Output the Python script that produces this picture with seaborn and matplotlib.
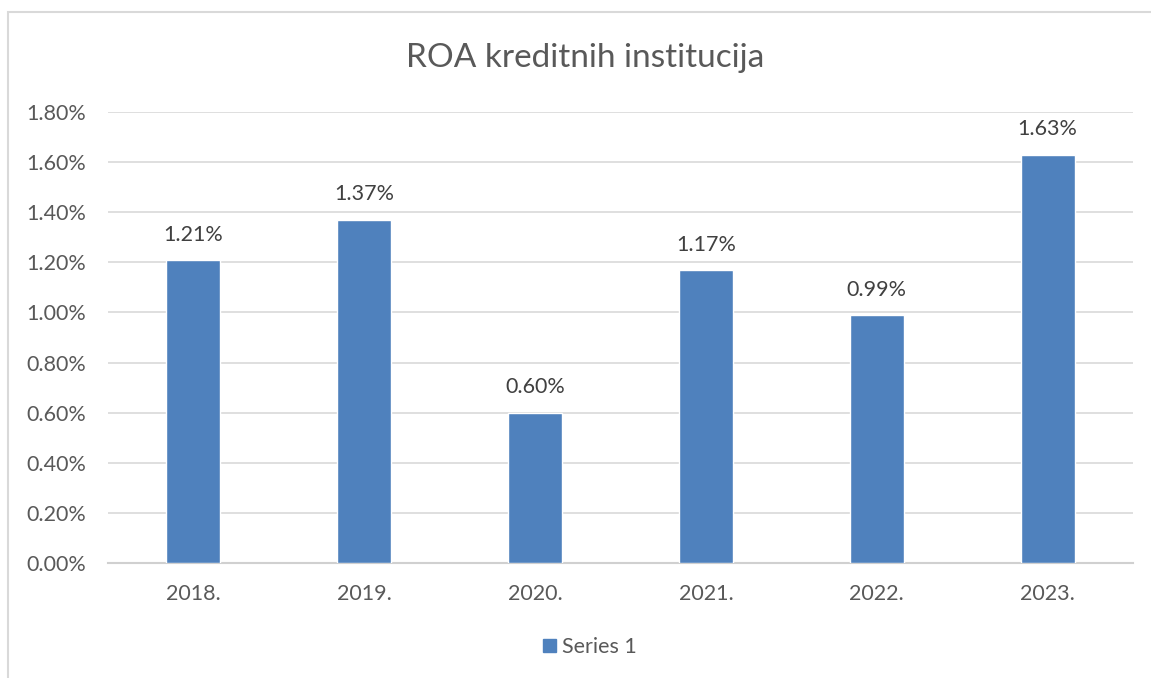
import matplotlib
matplotlib.use("Agg")
import matplotlib.pyplot as plt
import matplotlib.patches as mpatches
import seaborn as sns
import pandas as pd

categories = ["2018.", "2019.", "2020.", "2021.", "2022.", "2023."]
values = [1.21, 1.37, 0.60, 1.17, 0.99, 1.63]
yticks = [0.0, 0.2, 0.4, 0.6, 0.8, 1.0, 1.2, 1.4, 1.6, 1.8]
series_name = "Series 1"
title = "ROA kreditnih institucija"

sns.set_theme(style="white")
plt.rcParams['font.family'] = ['Lato', 'DejaVu Sans']

df = pd.DataFrame({"year": categories, "roa": values})

fig = plt.figure(figsize=(11.51, 6.78), dpi=100)
# outer chart border
fig.patches.append(mpatches.Rectangle((8/1151, -0.05), 1.2, 1 - 12/678 + 0.05,
                                      transform=fig.transFigure, fill=False,
                                      edgecolor="#D9D9D9", linewidth=1.5))
ax = fig.add_axes([108/1151, 1 - 563/678, (1133 - 108)/1151, (563 - 112)/678])

bar_color = "#4F81BD"
sns.barplot(data=df, x="year", y="roa", color=bar_color, width=0.316,
            saturation=1, ax=ax, zorder=3)

ax.set_ylim(0, 1.8)
ax.set_xlim(-0.5, len(categories) - 0.5)
ax.set_yticks(yticks)
ax.set_yticklabels([f"{v:.2f}%" for v in yticks])
ax.yaxis.grid(True, color="#D9D9D9", linewidth=1.2, zorder=0)
ax.set_axisbelow(True)
for s in ["top", "right", "left"]:
    ax.spines[s].set_visible(False)
ax.spines["bottom"].set_color("#D0D0D0")
ax.spines["bottom"].set_linewidth(1.5)
ax.tick_params(axis="both", length=0, labelsize=15.5, colors="#595959")
ax.tick_params(axis="y", pad=16)
ax.tick_params(axis="x", pad=15)
ax.set_xlabel("")
ax.set_ylabel("")

for i, v in enumerate(values):
    ax.annotate(f"{v:.2f}%", (i, v), xytext=(0, 11), textcoords="offset points",
                ha="center", va="bottom", fontsize=15.5, color="#404040")

fig.text(585/1151, 1 - 58/678, title, ha="center", va="center", fontsize=24, color="#595959")

handle = mpatches.Patch(color=bar_color, label=series_name)
fig.legend(handles=[handle], loc="center", bbox_to_anchor=(590/1151, 1 - 647/678),
           frameon=False, fontsize=15.5, labelcolor="#595959", handlelength=0.6,
           handleheight=0.6, handletextpad=0.3)

fig.savefig("out.png", dpi=100)
